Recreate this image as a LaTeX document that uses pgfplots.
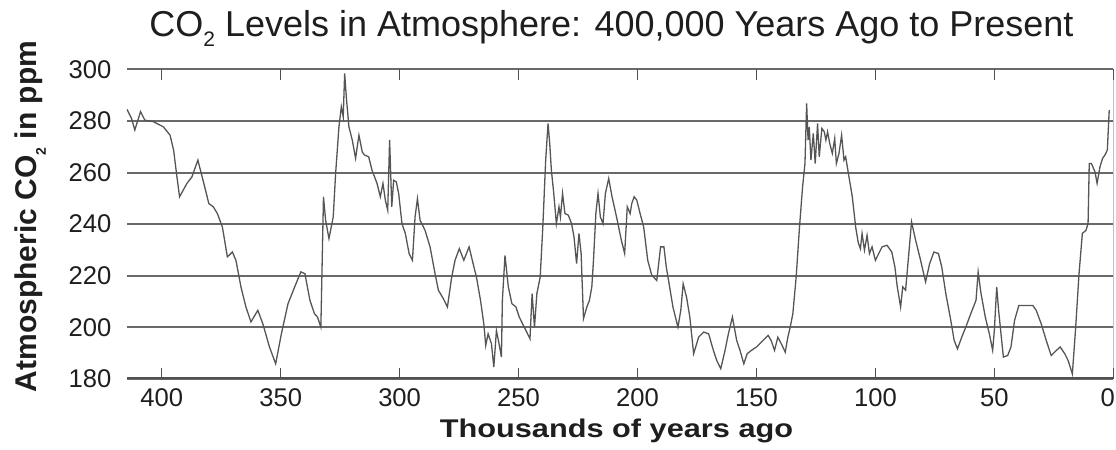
\documentclass[border=0pt]{standalone}
\usepackage{pgfplots}
\pgfplotsset{compat=1.18}
\usepackage{fontspec}
\setmainfont{Liberation Sans}
\definecolor{curvec}{RGB}{85,85,85}
\definecolor{gridc}{RGB}{105,105,105}
\definecolor{axc}{RGB}{80,80,80}
\definecolor{txtc}{RGB}{30,30,30}
\begin{document}
\begin{tikzpicture}
\path[use as bounding box] (-63.5pt,-35.5pt) rectangle (494.5pt,189.5pt);
\begin{axis}[
  at={(0,0)}, anchor=south west,
  scale only axis, width=493.15pt, height=154.85pt,
  x dir=reverse, xmin=0, xmax=414.6, ymin=180, ymax=300,
  xtick={50,100,...,400}, ytick={180,200,...,300},
  extra x ticks={0},
  extra x tick style={xticklabel style={xshift=-2.8pt}},
  ymajorgrids, major grid style={line width=1pt, color=gridc},
  axis line style={draw=none},
  tick align=inside, major tick length=5.5pt,
  xtick style={line width=0.6pt, color=axc},
  ytick style={draw=none},
  /pgf/number format/assume math mode=true,
  xticklabel style={font=\fontsize{12.8}{14}\selectfont, text=txtc, anchor=north, inner sep=0pt, yshift=-4.5pt},
  yticklabel style={font=\fontsize{12.8}{14}\selectfont, text=txtc, anchor=east, inner sep=0pt, xshift=-7.6pt},
]
\addplot[color=curvec, line width=0.65pt, mark=none] coordinates {
(414.6,284.5) (412.7,281.0) (411.3,276.5) (408.9,283.6) (407.1,280.3) (403.5,279.7)
(399.3,277.7) (396.5,274.5) (395.0,268.7) (393.6,258.3) (392.5,250.6) (389.4,255.8)
(387.3,258.3) (384.8,264.8) (382.3,255.8) (380.2,248.0) (378.3,246.7) (376.6,244.1)
(374.5,238.9) (372.4,227.3) (370.3,229.2) (368.8,226.0) (366.7,215.7) (364.6,207.9)
(362.5,202.1) (359.6,206.6) (357.5,201.4) (354.7,192.4) (352.1,185.9) (349.7,197.5)
(346.9,209.2) (344.1,215.7) (341.5,221.5) (339.8,220.8) (337.7,210.5) (335.8,205.3)
(334.5,204.0) (333.1,200.1) (332.0,250.6) (331.1,241.5) (329.7,234.4) (327.9,242.8)
(326.9,259.6) (325.5,277.7) (324.5,285.5) (323.7,281.6) (323.1,298.4) (322.3,288.1)
(321.3,277.7) (319.9,272.6) (318.5,265.5) (317.1,274.5) (315.7,268.0) (314.8,266.8)
(313.0,266.1) (311.6,260.9) (309.5,255.8) (308.1,250.6) (307.0,255.8) (306.0,249.3)
(305.0,245.4) (304.2,272.6) (303.3,246.7) (302.5,257.0) (301.4,256.4) (300.4,251.9)
(299.0,240.2) (297.6,236.4) (296.0,228.6) (294.6,226.0) (293.5,242.8) (292.5,249.9)
(291.4,241.5) (289.3,237.6) (287.2,231.2) (285.1,220.8) (283.7,214.4) (281.6,211.1)
(279.9,207.9) (278.1,219.5) (276.7,226.0) (274.9,230.5) (273.0,226.0) (270.8,231.2)
(269.1,224.7) (267.7,219.5) (266.0,210.5) (264.6,201.4) (263.8,193.0) (262.8,197.5)
(261.4,193.7) (260.4,184.6) (259.3,198.8) (258.2,193.7) (257.2,188.5) (256.8,210.5)
(255.7,227.9) (254.3,215.7) (252.8,209.2) (251.1,207.9) (249.7,204.0) (247.6,200.1)
(245.2,195.6) (244.3,213.1) (243.3,200.1) (242.3,213.1) (240.9,219.5) (239.8,238.9)
(238.6,264.8) (237.6,279.0) (236.9,271.3) (236.2,260.9) (235.2,251.9) (234.1,240.2)
(233.0,246.7) (232.4,242.8) (231.5,251.9) (230.5,244.1) (229.1,243.5) (227.7,240.2)
(226.7,235.1) (225.6,224.7) (224.6,236.4) (223.7,228.6) (222.7,203.4) (221.3,207.9)
(220.2,210.5) (219.2,215.7) (218.5,226.0) (217.5,244.1) (216.6,251.9) (215.6,242.8)
(214.5,240.2) (213.5,251.9) (212.1,257.7) (210.7,250.6) (208.5,241.5) (206.8,233.8)
(205.4,228.6) (204.3,246.7) (203.1,244.1) (202.4,248.0) (201.4,250.6) (200.3,249.3)
(198.9,244.1) (197.4,238.9) (195.7,226.0) (194.0,220.2) (191.9,218.2) (190.3,231.2)
(188.9,231.2) (187.9,223.4) (186.5,215.7) (185.1,207.9) (183.0,200.1) (181.8,206.6)
(180.8,216.9) (179.4,211.8) (178.0,204.0) (176.4,189.8) (174.3,196.2) (172.2,198.2)
(170.1,197.5) (168.1,191.1) (166.7,187.2) (165.0,184.0) (163.2,191.1) (161.8,197.5)
(160.1,204.0) (158.3,194.9) (156.9,191.1) (155.3,185.9) (153.9,189.8) (152.1,191.1)
(150.0,192.4) (147.9,194.3) (145.1,196.9) (143.8,194.9) (142.4,191.1) (141.0,196.2)
(139.2,193.0) (137.9,190.4) (136.8,196.2) (135.8,200.1) (134.7,205.3) (133.3,219.5)
(131.9,238.9) (130.6,254.5) (129.6,263.5) (128.9,286.8) (128.3,272.6) (127.8,277.7)
(127.1,264.8) (126.1,275.2) (125.3,263.5) (124.3,279.0) (123.6,266.1) (122.5,277.1)
(121.5,275.8) (120.8,272.6) (120.1,275.8) (119.2,271.3) (118.1,267.4) (117.1,273.2)
(116.4,263.5) (115.3,267.4) (114.2,274.5) (113.2,264.8) (112.5,266.1) (111.1,258.3)
(109.7,250.6) (108.3,238.9) (107.2,232.8) (106.3,230.5) (105.6,236.4) (104.6,229.9)
(103.5,235.7) (102.5,228.6) (101.4,231.2) (100.0,226.0) (98.6,228.6) (97.2,231.2)
(95.1,231.8) (93.1,229.2) (91.8,223.4) (90.8,215.7) (89.4,207.9) (88.5,215.7)
(87.3,214.4) (86.2,226.0) (84.8,240.9) (83.1,233.8) (81.0,226.0) (78.9,217.6)
(77.2,224.7) (75.4,229.2) (73.5,228.6) (72.1,223.4) (70.4,213.1) (68.3,202.7)
(66.9,195.0) (65.5,191.7) (63.7,196.2) (62.0,200.1) (59.9,205.3) (57.7,210.5)
(56.8,221.5) (55.6,213.1) (53.8,204.0) (52.1,197.5) (50.7,191.1) (50.0,198.8)
(49.0,215.7) (48.2,206.6) (47.2,197.5) (46.2,188.5) (44.4,189.1) (43.0,192.4)
(41.5,202.7) (39.7,208.5) (36.6,208.5) (33.8,208.5) (32.4,206.6) (30.3,201.4)
(28.2,195.0) (26.1,189.1) (23.9,191.1) (22.3,192.4) (20.4,189.8) (19.0,187.2)
(17.2,182.0) (15.8,200.1) (14.4,220.8) (13.0,236.4) (11.5,237.6) (10.6,240.2)
(10.1,263.5) (9.2,263.5) (7.7,260.3) (6.8,255.8) (5.6,262.2) (4.5,265.5)
(3.5,266.8) (2.5,268.7) (1.7,284.2)
};
\draw[line width=2pt, color=axc] (rel axis cs:0,0) -- (rel axis cs:1,0);
\draw[line width=0.6pt, color=axc] (rel axis cs:1,0) -- (rel axis cs:1,1);
\end{axis}
\node[anchor=base, text=txtc, inner sep=0pt] at (242.25pt,171pt)
  {\fontsize{18}{20}\selectfont CO\raisebox{-5pt}{\fontsize{10.5}{11}\selectfont 2} Levels in Atmosphere: 400,000 Years Ago to Present};
\node[anchor=base, text=txtc, inner sep=0pt] at (244.75pt,-29.15pt)
  {\scalebox{1.2}[1]{\fontsize{12.8}{14}\selectfont\bfseries Thousands of years ago}};
\node[anchor=base, rotate=90, text=txtc, inner sep=0pt] at (-45pt,81.25pt)
  {\fontsize{15}{17}\selectfont\bfseries Atmospheric CO\raisebox{-4.5pt}{\fontsize{7}{8}\selectfont 2} in ppm};
\end{tikzpicture}
\end{document}
